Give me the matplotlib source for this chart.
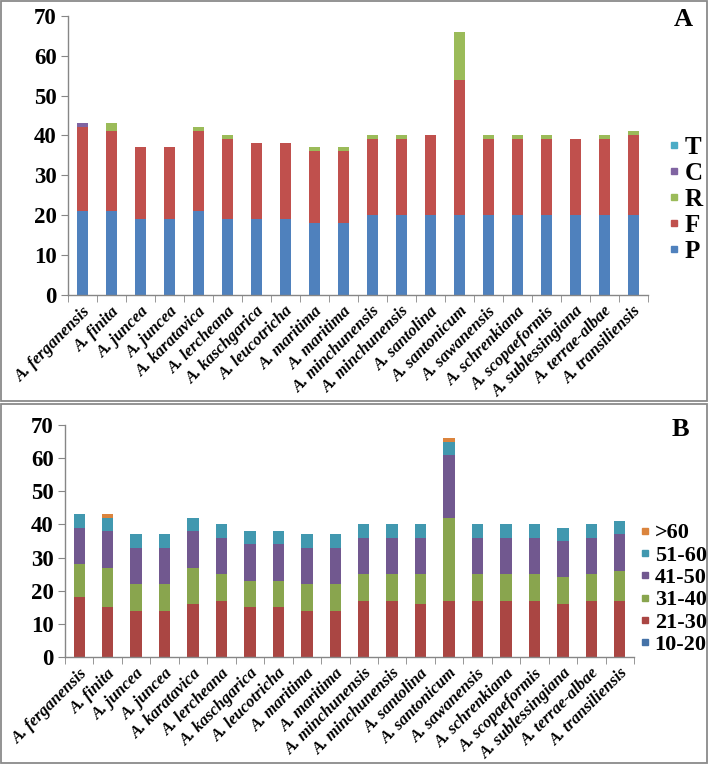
import matplotlib
matplotlib.use("Agg")
import matplotlib.pyplot as plt
from matplotlib.lines import Line2D
from matplotlib.patches import Rectangle
import numpy as np

species = ["A. ferganensis", "A. finita", "A. juncea", "A. juncea", "A. karatavica",
           "A. lercheana", "A. kaschgarica", "A. leucotricha", "A. maritima", "A. maritima",
           "A. minchunensis", "A. minchunensis", "A. santolina", "A. santonicum",
           "A. sawanensis", "A. schrenkiana", "A. scopaeformis", "A. sublessingiana",
           "A. terrae-albae", "A. transiliensis"]

# Panel A series
A_P = [21, 21, 19, 19, 21, 19, 19, 19, 18, 18, 20, 20, 20, 20, 20, 20, 20, 20, 20, 20]
A_F = [21, 20, 18, 18, 20, 20, 19, 19, 18, 18, 19, 19, 20, 34, 19, 19, 19, 19, 19, 20]
A_R = [0, 2, 0, 0, 1, 1, 0, 0, 1, 1, 1, 1, 0, 12, 1, 1, 1, 0, 1, 1]
A_C = [1, 0, 0, 0, 0, 0, 0, 0, 0, 0, 0, 0, 0, 0, 0, 0, 0, 0, 0, 0]
A_T = [0] * 20
A_names = ["P", "F", "R", "C", "T"]

# Panel B series
B_10_20 = [0] * 20
B_21_30 = [18, 15, 14, 14, 16, 17, 15, 15, 14, 14, 17, 17, 16, 17, 17, 17, 17, 16, 17, 17]
B_31_40 = [10, 12, 8, 8, 11, 8, 8, 8, 8, 8, 8, 8, 9, 25, 8, 8, 8, 8, 8, 9]
B_41_50 = [11, 11, 11, 11, 11, 11, 11, 11, 11, 11, 11, 11, 11, 19, 11, 11, 11, 11, 11, 11]
B_51_60 = [4] * 20
B_gt60 = [0, 1, 0, 0, 0, 0, 0, 0, 0, 0, 0, 0, 0, 1, 0, 0, 0, 0, 0, 0]
B_names = ["10-20", "21-30", "31-40", "41-50", "51-60", ">60"]

yticks = [0, 10, 20, 30, 40, 50, 60, 70]

A_colors = ["#4F81BD", "#C0504D", "#9BBB59", "#8064A2", "#4BACC6"]
B_colors = ["#4572A7", "#AA4643", "#89A54E", "#71588F", "#4198AF", "#DB843D"]

SERIF = ["Liberation Serif", "DejaVu Serif"]
plt.rcParams["font.family"] = SERIF

W, H = 708, 764
fig = plt.figure(figsize=(W / 100, H / 100), dpi=100)

def fx(px):
    return px / W

def fy(py):
    return 1 - py / H

# panel frames
for (y0, y1) in [(0.5, 401), (404, 763)]:
    fig.patches.append(Rectangle((fx(1), fy(y1)), fx(706), (y1 - y0) / H,
                                 transform=fig.transFigure, fill=False,
                                 edgecolor="#8a8a8a", linewidth=1.3))

def style_axis(ax):
    x = np.arange(len(species))
    ax.set_xlim(-0.5, len(species) - 0.5)
    ax.set_ylim(0, 70)
    ax.set_yticks(yticks)
    ax.set_yticklabels([str(v) for v in yticks], fontsize=16.5, fontweight="bold")
    ax.set_xticks(x)
    ax.set_xticklabels(species, rotation=45, ha="right", va="top",
                       rotation_mode="anchor", fontsize=12, fontweight="bold",
                       fontstyle="italic")
    ax.set_xticks(np.arange(len(species) + 1) - 0.5, minor=True)
    ax.tick_params(axis="x", which="major", length=0, pad=6)
    ax.tick_params(axis="x", which="minor", length=5, color="#868686", direction="out")
    ax.tick_params(axis="y", length=5, color="#868686", direction="out", pad=3)
    for s in ["top", "right"]:
        ax.spines[s].set_visible(False)
    for s in ["left", "bottom"]:
        ax.spines[s].set_color("#868686")
        ax.spines[s].set_linewidth(1.0)

# Panel A
axA = fig.add_axes([fx(68), fy(295), fx(648 - 68), (295 - 15.7) / H])
x = np.arange(len(species))
bottom = np.zeros(len(species))
handlesA = []
for vals, name, col in zip([A_P, A_F, A_R, A_C, A_T], A_names, A_colors):
    axA.bar(x, vals, width=0.4, bottom=bottom, color=col, label=name)
    bottom += np.array(vals)
    handlesA.append(Line2D([], [], marker="s", linestyle="none", color=col,
                           markersize=4.5, label=name))
style_axis(axA)
fig.legend(handles=handlesA[::-1], loc="center left",
           bbox_to_anchor=(fx(666), fy(199)), frameon=False,
           prop={"family": SERIF, "weight": "bold", "size": 18},
           handlelength=0.6, handletextpad=0.15, labelspacing=0.12,
           borderpad=0, borderaxespad=0)
fig.text(fx(683), fy(20), "A", fontsize=19, fontweight="bold", ha="center", va="center")

# Panel B
axB = fig.add_axes([fx(65), fy(657), fx(634 - 65), (657 - 425) / H])
bottom = np.zeros(len(species))
handlesB = []
for vals, name, col in zip([B_10_20, B_21_30, B_31_40, B_41_50, B_51_60, B_gt60],
                           B_names, B_colors):
    axB.bar(x, vals, width=0.4, bottom=bottom, color=col, label=name)
    bottom += np.array(vals)
    handlesB.append(Line2D([], [], marker="s", linestyle="none", color=col,
                           markersize=4.5, label=name))
style_axis(axB)
fig.legend(handles=handlesB[::-1], loc="center left",
           bbox_to_anchor=(fx(638), fy(589)), frameon=False,
           prop={"family": SERIF, "weight": "bold", "size": 16},
           handlelength=0.6, handletextpad=0.15, labelspacing=0.08,
           borderpad=0, borderaxespad=0)
fig.text(fx(680), fy(430), "B", fontsize=19, fontweight="bold", ha="center", va="center")

fig.savefig("out.png", dpi=100)
